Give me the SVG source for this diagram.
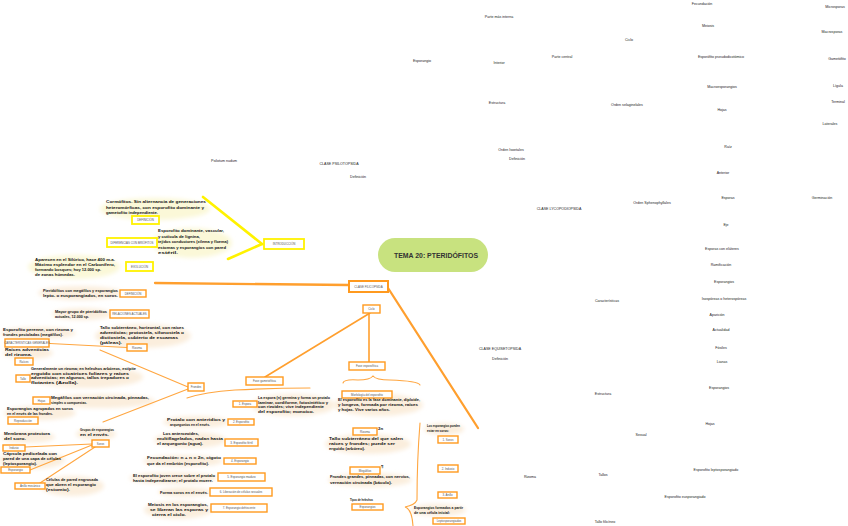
<svg xmlns="http://www.w3.org/2000/svg" width="848" height="526" viewBox="0 0 848 526">
<defs>
<filter id="soft" x="-20%" y="-40%" width="140%" height="180%"><feGaussianBlur stdDeviation="2.2"/></filter>
<style>
.lbl{font-family:"Liberation Sans",Arial,sans-serif;font-size:3.6px;fill:#222;text-anchor:middle}
.bt{font-family:"Liberation Sans",Arial,sans-serif;font-size:2.9px;fill:#555;text-anchor:middle}
.hw{font-family:"Liberation Sans",Arial,sans-serif;font-weight:bold;font-size:4.4px;fill:#111}
.ybox{fill:#fff;stroke:#fff200;stroke-width:1.8}
.obox{fill:#fff;stroke:#ff9a1f;stroke-width:1.4}
.yl{stroke:#fff200;stroke-width:2.6;fill:none;stroke-linecap:round}
.om{stroke:#ff9f2e;stroke-width:2.3;fill:none;stroke-linecap:round}
.os{stroke:#ffa640;stroke-width:1.1;fill:none;stroke-linecap:round}
.oc{stroke:#ff9f2e;stroke-width:1.6;fill:none;stroke-linecap:round}
.yb{fill:#fbf8d8;filter:url(#soft)}
.ob{fill:#fbeedd;filter:url(#soft)}
</style>
</defs>
<rect width="848" height="526" fill="#fff"/>

<g id="blobs">
<ellipse class="yb" cx="155" cy="209" rx="55" ry="11"/>
<ellipse class="yb" cx="192" cy="243" rx="40" ry="15"/>
<ellipse class="yb" cx="74" cy="267" rx="46" ry="12"/>
<ellipse class="ob" cx="80" cy="293" rx="42" ry="7"/>
<ellipse class="ob" cx="82" cy="314" rx="30" ry="6"/>
<ellipse class="ob" cx="38" cy="333" rx="38" ry="6"/>
<ellipse class="ob" cx="143" cy="336" rx="48" ry="12"/>
<ellipse class="ob" cx="28" cy="353" rx="25" ry="6"/>
<ellipse class="ob" cx="85" cy="377" rx="58" ry="11"/>
<ellipse class="ob" cx="100" cy="401" rx="55" ry="7"/>
<ellipse class="ob" cx="40" cy="413" rx="36" ry="7"/>
<ellipse class="ob" cx="96" cy="434" rx="20" ry="6"/>
<ellipse class="ob" cx="28" cy="437" rx="27" ry="6"/>
<ellipse class="ob" cx="32" cy="460" rx="33" ry="9"/>
<ellipse class="ob" cx="72" cy="486" rx="32" ry="10"/>
<ellipse class="ob" cx="293" cy="405" rx="42" ry="11"/>
<ellipse class="ob" cx="196" cy="422" rx="33" ry="6"/>
<ellipse class="ob" cx="190" cy="440" rx="36" ry="8"/>
<ellipse class="ob" cx="183" cy="461" rx="40" ry="6"/>
<ellipse class="ob" cx="173" cy="478" rx="44" ry="6"/>
<ellipse class="ob" cx="185" cy="492" rx="27" ry="5"/>
<ellipse class="ob" cx="178" cy="510" rx="34" ry="9"/>
<ellipse class="ob" cx="378" cy="405" rx="45" ry="11"/>
<ellipse class="ob" cx="368" cy="444" rx="43" ry="10"/>
<ellipse class="ob" cx="370" cy="480" rx="42" ry="7"/>
<ellipse class="ob" cx="444" cy="429" rx="20" ry="6"/>
<ellipse class="ob" cx="438" cy="510" rx="28" ry="6"/>
</g>

<g id="connectors">
<path class="yl" d="M262,244 L203,197"/>
<path class="yl" d="M262,244 L228,259"/>
<path class="om" d="M155,283 L349,285"/>
<path class="om" d="M388,288 L478,428"/>
<path class="oc" d="M370,313 L265,377"/>
<path class="oc" d="M369,313 L369,362"/>
<path class="os" d="M187,398 Q205,392 235,390 Q275,388 310,388"/>
<path class="os" d="M343,383 Q344,379 358,380 Q370,380 373,376 Q376,380 390,380 Q418,381 420,385"/>
<path class="os" d="M420,423 Q417,460 417,500 Q415,505 405,507 Q412,509 413,526"/>
<path class="os" d="M50,343.5 L127,347.5"/>
<path class="os" d="M100,350 L188,387"/>
<path class="os" d="M188,389 L103,422"/>
<path class="os" d="M25,447 L92,444"/>
<path class="os" d="M30,470 L92,445"/>
<path class="os" d="M40,483 L95,447"/>
</g>

<g id="tema">
<rect x="378" y="238" width="110" height="34" rx="17" fill="#c8e27f"/>
<text x="436" y="258" font-family="Liberation Sans,Arial,sans-serif" font-weight="bold" font-size="6.6" fill="#333" text-anchor="middle" textLength="84" lengthAdjust="spacingAndGlyphs">TEMA 20: PTERIDÓFITOS</text>
</g>

<g id="introduccion"><rect class="ybox" x="264" y="239" width="40" height="10"/><text class="bt" x="284" y="245">INTRODUCCIÓN</text></g>
<g id="y-definicion"><rect class="ybox" x="132" y="216" width="27" height="8"/><text class="bt" x="145.5" y="221">DEFINICIÓN</text>
<text class="hw" x="106" y="203" textLength="100" lengthAdjust="spacingAndGlyphs">Cormófitos. Sin alternancia de generaciones</text>
<text class="hw" x="106" y="208.5" textLength="98" lengthAdjust="spacingAndGlyphs">heteromórficas, con esporofito dominante y</text>
<text class="hw" x="106" y="214" textLength="52" lengthAdjust="spacingAndGlyphs">gametofito independiente.</text></g>
<g id="diferencias"><rect class="ybox" x="107" y="238" width="50" height="9"/><text class="bt" x="132" y="243.5">DIFERENCIAS CON BRIÓFITOS</text>
<text class="hw" x="158" y="232" textLength="66" lengthAdjust="spacingAndGlyphs">Esporofito dominante, vascular,</text>
<text class="hw" x="158" y="237.5" textLength="42" lengthAdjust="spacingAndGlyphs">y cutícula de lignina,</text>
<text class="hw" x="158" y="243" textLength="70" lengthAdjust="spacingAndGlyphs">tejidos conductores (xilema y floema)</text>
<text class="hw" x="158" y="248.5" textLength="68" lengthAdjust="spacingAndGlyphs">estomas y esporangios con pared</text>
<text class="hw" x="158" y="254" textLength="20" lengthAdjust="spacingAndGlyphs">estéril.</text></g>
<g id="evolucion"><rect class="ybox" x="126" y="262" width="27" height="9"/><text class="bt" x="139.5" y="267.5">EVOLUCIÓN</text>
<text class="hw" x="35" y="261" textLength="80" lengthAdjust="spacingAndGlyphs">Aparecen en el Silúrico, hace 400 m.a.</text>
<text class="hw" x="35" y="266" textLength="80" lengthAdjust="spacingAndGlyphs">Máximo esplendor en el Carbonífero,</text>
<text class="hw" x="35" y="271" textLength="66" lengthAdjust="spacingAndGlyphs">formando bosques; hoy 12.000 sp.</text>
<text class="hw" x="35" y="276" textLength="40" lengthAdjust="spacingAndGlyphs">de zonas húmedas.</text></g>

<g id="clase-filicopsida"><rect class="obox" x="349" y="281" width="39" height="11" style="stroke-width:2"/><text class="bt" x="368.5" y="287.5">CLASE FILICOPSIDA</text></g>
<g id="ciclo"><rect class="obox" x="363" y="305" width="17" height="8"/><text class="bt" x="371.5" y="310">Ciclo</text></g>
<g id="fase-esporofitica"><rect class="obox" x="349" y="362" width="36" height="8"/><text class="bt" x="367" y="367">Fase esporofítica</text></g>
<g id="fase-gametofitica"><rect class="obox" x="246" y="377" width="37" height="8"/><text class="bt" x="264.5" y="382">Fase gametofítica</text></g>

<g id="o-definicion"><rect class="obox" x="120" y="290" width="26" height="7"/><text class="bt" x="133" y="294.5">DEFINICIÓN</text>
<text class="hw" x="43" y="292" textLength="75" lengthAdjust="spacingAndGlyphs">Pteridófitos con megáfilos y esporangios</text>
<text class="hw" x="43" y="297" textLength="75" lengthAdjust="spacingAndGlyphs">lepto- o eusporangiados, en soros.</text></g>
<g id="relaciones"><rect class="obox" x="110" y="310" width="39" height="8"/><text class="bt" x="129.5" y="315">RELACIONES ACTUALES</text>
<text class="hw" x="55" y="313" textLength="52" lengthAdjust="spacingAndGlyphs">Mayor grupo de pteridófitos</text>
<text class="hw" x="55" y="318" textLength="34" lengthAdjust="spacingAndGlyphs">actuales, 12.000 sp.</text></g>
<g id="caracteristicas"><rect class="obox" x="5" y="339" width="44" height="8"/><text class="bt" x="27" y="344">CARACTERÍSTICAS GENERALES</text>
<text class="hw" x="3" y="331" textLength="70" lengthAdjust="spacingAndGlyphs">Esporofito perenne, con rizoma y</text>
<text class="hw" x="3" y="336" textLength="60" lengthAdjust="spacingAndGlyphs">frondes pecioladas (megáfilos).</text></g>
<g id="rizoma"><rect class="obox" x="127" y="344" width="20" height="7"/><text class="bt" x="137" y="348.5">Rizoma</text>
<text class="hw" x="100" y="329" textLength="84" lengthAdjust="spacingAndGlyphs">Tallo subterráneo, horizontal, con raíces</text>
<text class="hw" x="100" y="334" textLength="84" lengthAdjust="spacingAndGlyphs">adventicias; protostela, sifonostela o</text>
<text class="hw" x="100" y="339" textLength="78" lengthAdjust="spacingAndGlyphs">dictiostela, cubierto de escamas</text>
<text class="hw" x="100" y="343.5" textLength="22" lengthAdjust="spacingAndGlyphs">(páleas).</text></g>
<g id="raices"><rect class="obox" x="15" y="358" width="18" height="7"/><text class="bt" x="24" y="362.5">Raíces</text>
<text class="hw" x="5" y="351" textLength="44" lengthAdjust="spacingAndGlyphs">Raíces adventicias</text>
<text class="hw" x="5" y="356" textLength="27" lengthAdjust="spacingAndGlyphs">del rizoma.</text></g>
<g id="tallo"><rect class="obox" x="16" y="375" width="14" height="7"/><text class="bt" x="23" y="379.5">Tallo</text>
<text class="hw" x="31" y="370" textLength="105" lengthAdjust="spacingAndGlyphs">Generalmente un rizoma; en helechos arbóreos, estípite</text>
<text class="hw" x="31" y="374.5" textLength="98" lengthAdjust="spacingAndGlyphs">erguido con cicatrices foliares y raíces</text>
<text class="hw" x="31" y="379" textLength="98" lengthAdjust="spacingAndGlyphs">adventicias; en algunos, tallos trepadores o</text>
<text class="hw" x="31" y="383.5" textLength="47" lengthAdjust="spacingAndGlyphs">flotantes (Azolla).</text></g>
<g id="hojas"><rect class="obox" x="33" y="397" width="17" height="7"/><text class="bt" x="41.5" y="401.5">Hojas</text>
<text class="hw" x="51" y="399" textLength="98" lengthAdjust="spacingAndGlyphs">Megáfilos con vernación circinada, pinnadas,</text>
<text class="hw" x="51" y="404" textLength="36" lengthAdjust="spacingAndGlyphs">simples o compuestas.</text></g>
<g id="reproduccion"><rect class="obox" x="8" y="417" width="30" height="7"/><text class="bt" x="23" y="421.5">Reproducción</text>
<text class="hw" x="7" y="410" textLength="66" lengthAdjust="spacingAndGlyphs">Esporangios agrupados en soros</text>
<text class="hw" x="7" y="415" textLength="46" lengthAdjust="spacingAndGlyphs">en el envés de las frondes.</text></g>
<g id="frondes"><rect class="obox" x="188" y="383" width="16" height="8"/><text class="bt" x="196" y="388">Frondes</text></g>
<g id="soros"><rect class="obox" x="92" y="440" width="17" height="7"/><text class="bt" x="100.5" y="444.5">Soros</text>
<text class="hw" x="80" y="431" textLength="34" lengthAdjust="spacingAndGlyphs">Grupos de esporangios</text>
<text class="hw" x="80" y="436" textLength="29" lengthAdjust="spacingAndGlyphs">en el envés.</text></g>
<g id="indusio"><rect class="obox" x="3" y="445" width="22" height="6"/><text class="bt" x="14" y="449">Indusio</text>
<text class="hw" x="4" y="435" textLength="46" lengthAdjust="spacingAndGlyphs">Membrana protectora</text>
<text class="hw" x="4" y="440" textLength="22" lengthAdjust="spacingAndGlyphs">del soro.</text></g>
<g id="esporangio"><rect class="obox" x="1" y="467" width="29" height="6"/><text class="bt" x="15.5" y="471">Esporangio</text>
<text class="hw" x="3" y="455" textLength="54" lengthAdjust="spacingAndGlyphs">Cápsula pedicelada con</text>
<text class="hw" x="3" y="460" textLength="58" lengthAdjust="spacingAndGlyphs">pared de una capa de células</text>
<text class="hw" x="3" y="465" textLength="34" lengthAdjust="spacingAndGlyphs">(leptosporangio).</text></g>
<g id="anillo"><rect class="obox" x="15" y="483" width="30" height="6"/><text class="bt" x="30" y="487">Anillo mecánico</text>
<text class="hw" x="46" y="481" textLength="52" lengthAdjust="spacingAndGlyphs">Células de pared engrosada</text>
<text class="hw" x="46" y="486" textLength="50" lengthAdjust="spacingAndGlyphs">que abren el esporangio</text>
<text class="hw" x="46" y="491" textLength="24" lengthAdjust="spacingAndGlyphs">(estomio).</text></g>

<g id="g1"><rect class="obox" x="233" y="401" width="24" height="6"/><text class="bt" x="245" y="405">1. Espora</text>
<text class="hw" x="258" y="399" textLength="72" lengthAdjust="spacingAndGlyphs">La espora (n) germina y forma un protalo</text>
<text class="hw" x="258" y="403.5" textLength="70" lengthAdjust="spacingAndGlyphs">laminar, cordiforme, fotosintético y</text>
<text class="hw" x="258" y="408" textLength="66" lengthAdjust="spacingAndGlyphs">con rizoides; vive independiente</text>
<text class="hw" x="258" y="412.5" textLength="56" lengthAdjust="spacingAndGlyphs">del esporofito; monoico.</text></g>
<g id="g2"><rect class="obox" x="228" y="419" width="26" height="6"/><text class="bt" x="241" y="423">2. Esporofito</text>
<text class="hw" x="167" y="420.5" textLength="58" lengthAdjust="spacingAndGlyphs">Protalo con anteridios y</text>
<text class="hw" x="170" y="425.5" textLength="40" lengthAdjust="spacingAndGlyphs">arquegonios en el envés.</text></g>
<g id="g3"><rect class="obox" x="225" y="439" width="33" height="7"/><text class="bt" x="241.5" y="443.5">3. Esporofito fértil</text>
<text class="hw" x="163" y="435" textLength="36" lengthAdjust="spacingAndGlyphs">Los anterozoides,</text>
<text class="hw" x="157" y="440" textLength="66" lengthAdjust="spacingAndGlyphs">multiflagelados, nadan hasta</text>
<text class="hw" x="157" y="445" textLength="46" lengthAdjust="spacingAndGlyphs">el arquegonio (agua).</text></g>
<g id="g4"><rect class="obox" x="224" y="458" width="32" height="6"/><text class="bt" x="240" y="462">4. Esporangio</text>
<text class="hw" x="147" y="459" textLength="74" lengthAdjust="spacingAndGlyphs">Fecundación: n + n = 2n, cigoto</text>
<text class="hw" x="147" y="464.5" textLength="62" lengthAdjust="spacingAndGlyphs">que da el embrión (esporofito).</text></g>
<g id="g5"><rect class="obox" x="218" y="473" width="47" height="8"/><text class="bt" x="241.5" y="478">5. Esporangio maduro</text>
<text class="hw" x="133" y="476.5" textLength="82" lengthAdjust="spacingAndGlyphs">El esporofito joven crece sobre el protalo</text>
<text class="hw" x="133" y="481.5" textLength="80" lengthAdjust="spacingAndGlyphs">hasta independizarse; el protalo muere.</text></g>
<g id="g6"><rect class="obox" x="210" y="488" width="62" height="8"/><text class="bt" x="241" y="493">6. Liberación de células sexuales</text>
<text class="hw" x="160" y="493.5" textLength="48" lengthAdjust="spacingAndGlyphs">Forma soros en el envés.</text></g>
<g id="g7"><rect class="obox" x="211" y="504" width="56" height="8"/><text class="bt" x="239" y="509">7. Esporangio dehiscente</text>
<text class="hw" x="148" y="506" textLength="60" lengthAdjust="spacingAndGlyphs">Meiosis en los esporangios,</text>
<text class="hw" x="150" y="511" textLength="58" lengthAdjust="spacingAndGlyphs">se liberan las esporas y</text>
<text class="hw" x="152" y="516" textLength="34" lengthAdjust="spacingAndGlyphs">cierra el ciclo.</text></g>

<g id="e-morfologia"><rect class="obox" x="342" y="391" width="50" height="7"/><text class="bt" x="367" y="395.5">Morfología del esporofito</text>
<text class="hw" x="338" y="401" textLength="82" lengthAdjust="spacingAndGlyphs">El esporofito es la fase dominante, diploide,</text>
<text class="hw" x="338" y="406" textLength="80" lengthAdjust="spacingAndGlyphs">y longeva, formada por rizoma, raíces</text>
<text class="hw" x="338" y="411" textLength="52" lengthAdjust="spacingAndGlyphs">y hojas. Vive varios años.</text></g>
<g id="e-rizoma"><rect class="obox" x="353" y="428" width="24" height="7"/><text class="bt" x="365" y="432.5">Rizoma</text>
<text class="hw" x="378" y="430" font-size="3.5">2n</text>
<text class="hw" x="329" y="440" textLength="74" lengthAdjust="spacingAndGlyphs">Tallo subterráneo del que salen</text>
<text class="hw" x="329" y="445" textLength="66" lengthAdjust="spacingAndGlyphs">raíces y frondes; puede ser</text>
<text class="hw" x="329" y="450" textLength="36" lengthAdjust="spacingAndGlyphs">erguido (arbóreo).</text></g>
<g id="e-megafilos"><rect class="obox" x="350" y="467" width="30" height="7"/><text class="bt" x="365" y="471.5">Megáfilos</text>
<text class="hw" x="381" y="468" font-size="3.5">¶</text>
<text class="hw" x="330" y="478" textLength="80" lengthAdjust="spacingAndGlyphs">Frondes grandes, pinnadas, con nervios,</text>
<text class="hw" x="330" y="483.5" textLength="62" lengthAdjust="spacingAndGlyphs">vernación circinada (báculo).</text></g>
<g id="e-esporangios"><rect class="obox" x="352" y="504" width="31" height="6"/><text class="bt" x="367.5" y="508">Esporangios</text>
<text class="hw" x="350" y="501" textLength="23" lengthAdjust="spacingAndGlyphs">Tipos de helechos</text></g>
<g id="e-soros"><rect class="obox" x="438" y="436" width="20" height="7"/><text class="bt" x="448" y="440.5">1. Soros</text>
<text class="hw" x="427" y="427" textLength="33" lengthAdjust="spacingAndGlyphs">Los esporangios pueden</text>
<text class="hw" x="427" y="432" textLength="22" lengthAdjust="spacingAndGlyphs">estar en soros:</text></g>
<g id="e-indusio"><rect class="obox" x="438" y="465" width="20" height="7"/><text class="bt" x="448" y="469.5">2. Indusio</text></g>
<g id="e-anillo"><rect class="obox" x="438" y="492" width="19" height="6"/><text class="bt" x="447.5" y="496">3. Anillo</text></g>
<g id="e-lepto"><rect class="obox" x="433" y="518" width="32" height="6"/><text class="bt" x="449" y="522">Leptosporangiados</text>
<text class="hw" x="414" y="509" textLength="49" lengthAdjust="spacingAndGlyphs">Esporangios formados a partir</text>
<text class="hw" x="414" y="513.5" textLength="36" lengthAdjust="spacingAndGlyphs">de una célula inicial:</text></g>

<g id="labels">
<text class="lbl" x="224" y="162">Psilotum nudum</text>
<text class="lbl" x="339" y="165">CLASE PSILOTOPSIDA</text>
<text class="lbl" x="358" y="178">Definición</text>
<text class="lbl" x="702" y="5">Fecundación</text>
<text class="lbl" x="835" y="8">Microsporas</text>
<text class="lbl" x="499" y="18">Parte más interna</text>
<text class="lbl" x="708" y="27">Meiosis</text>
<text class="lbl" x="832" y="33">Macrosporas</text>
<text class="lbl" x="629" y="41">Ciclo</text>
<text class="lbl" x="422" y="62">Esporangio</text>
<text class="lbl" x="499" y="64">Interior</text>
<text class="lbl" x="562" y="58">Parte central</text>
<text class="lbl" x="721" y="58">Esporófito pseudodicotómico</text>
<text class="lbl" x="837" y="60">Gametófito</text>
<text class="lbl" x="722" y="88">Macroesporangios</text>
<text class="lbl" x="838" y="87">Lígula</text>
<text class="lbl" x="497" y="104">Estructura</text>
<text class="lbl" x="627" y="106">Orden selaginelales</text>
<text class="lbl" x="838" y="103">Terminal</text>
<text class="lbl" x="722" y="111">Hojas</text>
<text class="lbl" x="830" y="125">Laterales</text>
<text class="lbl" x="511" y="151">Orden Isoetales</text>
<text class="lbl" x="517" y="160">Definición</text>
<text class="lbl" x="728" y="148">Raíz</text>
<text class="lbl" x="723" y="174">Anterior</text>
<text class="lbl" x="728" y="199">Esporas</text>
<text class="lbl" x="822" y="199">Germinación</text>
<text class="lbl" x="652" y="204">Orden Sphenophyllales</text>
<text class="lbl" x="559" y="210">CLASE LYCOPODIOPSIDA</text>
<text class="lbl" x="726" y="226">Eje</text>
<text class="lbl" x="722" y="250">Esporas con eláteres</text>
<text class="lbl" x="721" y="266">Ramificación</text>
<text class="lbl" x="724" y="283">Esporangios</text>
<text class="lbl" x="724" y="300">Isospóreas o heterospóreas</text>
<text class="lbl" x="607" y="302">Características</text>
<text class="lbl" x="717" y="316">Aparición</text>
<text class="lbl" x="721" y="331">Actualidad</text>
<text class="lbl" x="721" y="349">Fósiles</text>
<text class="lbl" x="722" y="363">Lianas</text>
<text class="lbl" x="500" y="350">CLASE EQUISETOPSIDA</text>
<text class="lbl" x="500" y="360">Definición</text>
<text class="lbl" x="719" y="389">Esporangios</text>
<text class="lbl" x="603" y="395">Estructura</text>
<text class="lbl" x="710" y="425">Hojas</text>
<text class="lbl" x="641" y="436">Sexual</text>
<text class="lbl" x="716" y="471">Esporofito leptosporangiado</text>
<text class="lbl" x="685" y="498">Esporofito eusporangiado</text>
<text class="lbl" x="530" y="478">Rizoma</text>
<text class="lbl" x="603" y="476">Tallos</text>
<text class="lbl" x="605" y="523">Tallo filicíneo</text>
</g>
</svg>
